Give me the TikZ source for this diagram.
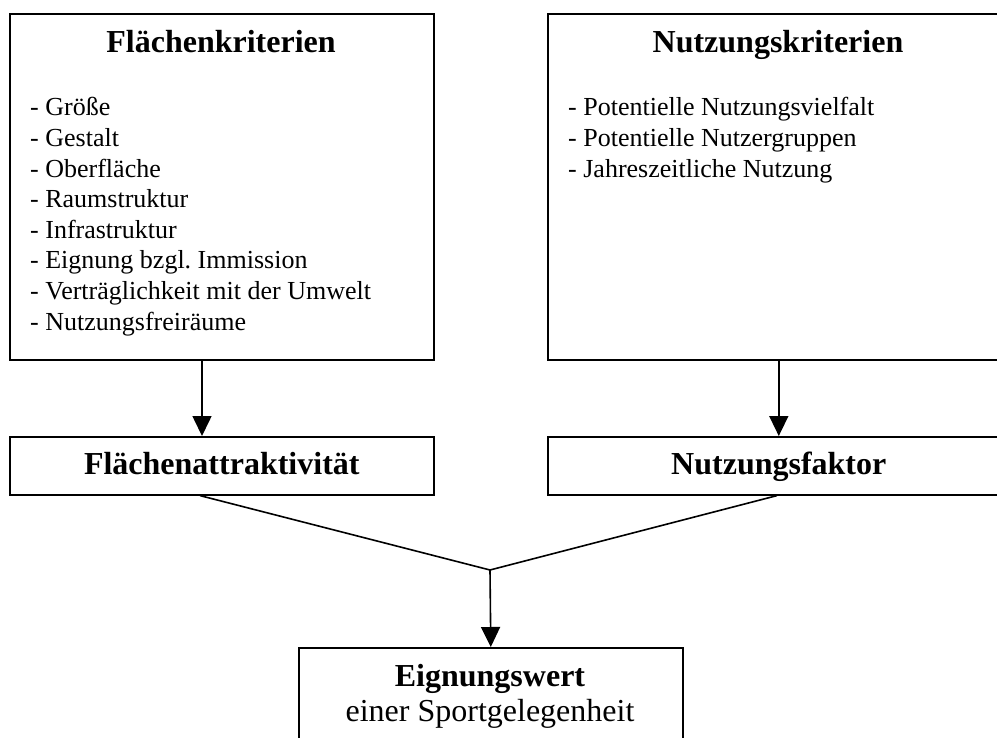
\documentclass[tikz,border=0pt]{standalone}
\usepackage{fontspec}
\setmainfont{Liberation Serif}
\usetikzlibrary{positioning,arrows.meta}
\frenchspacing

\tikzset{
	box/.style={draw,rectangle,inner sep=0pt,anchor=north west,line width=1.6pt},
	headline/.style={font=\fontsize{32}{36}\selectfont\bfseries,inner sep=0pt},
	item/.style={font=\fontsize{26}{30}\selectfont,inner sep=0pt,anchor=base west},
	arr/.style={-{Triangle[width=19pt,length=20pt]},line width=1.6pt},
	link/.style={line width=1.6pt}
}

\begin{document}
\begin{tikzpicture}[x=1pt,y=-1pt]
	\path[use as bounding box,clip](0,0) rectangle (997,738);
	% Kriterien
	\node[box,minimum width=424pt,minimum height=346pt](fk) at (9,13){};
	\node[box,minimum width=462pt,minimum height=346pt](nk) at (547,13){};
	\node[headline,anchor=base](fkt) at (221,53){Flächenkriterien};
	\node[headline,anchor=base](nkt) at (778,53){Nutzungskriterien};
	\foreach \txt [count=\i from 0] in {Größe,Gestalt,Oberfläche,Raumstruktur,Infrastruktur,Eignung bzgl. Immission,Verträglichkeit mit der Umwelt,Nutzungsfreiräume}
		\node[item](fk\i) at (30,116+30.6*\i){- \txt};
	\foreach \txt [count=\i from 0] in {Potentielle Nutzungsvielfalt,Potentielle Nutzergruppen,Jahreszeitliche Nutzung}
		\node[item](nk\i) at (568,116+30.6*\i){- \txt};
	% Zwischenwerte
	\node[box,headline,text height=25pt,text depth=7pt,minimum width=424pt,minimum height=58pt](fa) at (9,436){Flächenattraktivität};
	\node[box,headline,text height=25pt,text depth=7pt,minimum width=462pt,minimum height=58pt](nf) at (547,436){Nutzungsfaktor};
	% Ergebnis
	\node[box,minimum width=384pt,minimum height=150pt](ew) at (298,647){};
	\node[headline,anchor=base](ewt) at (490,686){Eignungswert};
	\node[font=\fontsize{32}{36}\selectfont,inner sep=0pt,anchor=base](ews) at (490,721){einer Sportgelegenheit};
	\coordinate(j) at (490,570);
	\draw[arr](fk.south -| 202,0) -- (fa.north -| 202,0);
	\draw[arr](nk.south) -- (nf.north);
	\draw[link](fa.south -| 200,0) -- (j) -- (nf.south -| 777,0);
	\draw[arr](j) -- (ew.north);
\end{tikzpicture}
\end{document}
